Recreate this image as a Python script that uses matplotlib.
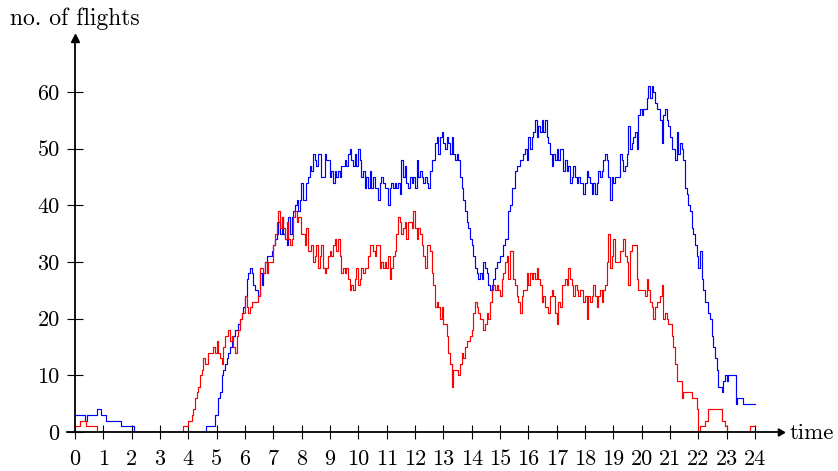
import matplotlib
matplotlib.use("Agg")
import matplotlib.pyplot as plt

plt.rcParams['font.family'] = ['cmr10', 'DejaVu Serif']
plt.rcParams['mathtext.fontset'] = 'cm'
plt.rcParams['axes.formatter.use_mathtext'] = True

# ---- data: breakpoints (hour, number of flights), drawn as post-steps ----
blue_t = [0, 0.35, 0.42, 0.77, 0.92, 1.09, 1.62, 2.10, 4.61, 4.94,
          5.058, 5.117, 5.176, 5.235, 5.294, 5.353, 5.411, 5.47, 5.529, 5.588,
          5.647, 5.706, 5.764, 5.823, 5.882, 5.941, 6.0, 6.058, 6.117, 6.176,
          6.235, 6.294, 6.353, 6.411, 6.47, 6.529, 6.588, 6.647, 6.706, 6.764,
          6.823, 6.882, 6.941, 7.0, 7.058, 7.117, 7.176, 7.235, 7.294, 7.353,
          7.411, 7.47, 7.529, 7.588, 7.647, 7.706, 7.764, 7.823,
          7.871, 7.93, 7.989, 8.047, 8.106, 8.165, 8.224, 8.283, 8.342, 8.4,
          8.459, 8.518, 8.577, 8.636, 8.695, 8.753, 8.812, 8.871, 8.93, 8.989,
          9.047, 9.106, 9.165, 9.224, 9.283, 9.342, 9.4, 9.459, 9.518, 9.577,
          9.636, 9.695, 9.753, 9.812, 9.871, 9.93, 9.989, 10.047, 10.106, 10.165,
          10.224, 10.283, 10.342, 10.4, 10.459, 10.518, 10.577, 10.636, 10.695, 10.753,
          10.812, 10.871, 10.93, 10.989, 11.047, 11.106, 11.165, 11.224, 11.283, 11.342,
          11.4, 11.459, 11.518, 11.577, 11.636, 11.695, 11.753, 11.812,
          11.883, 11.942, 12.0, 12.059, 12.118, 12.177, 12.236, 12.295, 12.353, 12.412,
          12.471, 12.53, 12.589, 12.648, 12.706, 12.765, 12.824, 12.883, 12.942, 13.0,
          13.059, 13.118, 13.177, 13.236, 13.295, 13.353, 13.412, 13.471, 13.53, 13.589,
          13.648, 13.706, 13.765, 13.824, 13.883, 13.942, 14.0, 14.059, 14.118, 14.177,
          14.236, 14.295, 14.353, 14.412, 14.471, 14.53, 14.589, 14.648, 14.706, 14.765,
          14.824, 14.883, 14.942, 15.0, 15.059, 15.118, 15.177, 15.236, 15.295, 15.353,
          15.412, 15.471, 15.53, 15.589, 15.648, 15.706, 15.765, 15.824,
          15.882, 15.941, 16.0, 16.059, 16.118, 16.176, 16.235, 16.294, 16.353, 16.412,
          16.471, 16.53, 16.588, 16.647, 16.706, 16.765, 16.824, 16.882, 16.941, 17.0,
          17.059, 17.118, 17.176, 17.235, 17.294, 17.353, 17.412, 17.471, 17.53, 17.588,
          17.647, 17.706, 17.765, 17.824, 17.882, 17.941, 18.0, 18.059, 18.118, 18.176,
          18.235, 18.294, 18.353, 18.412, 18.471, 18.53, 18.588, 18.647, 18.706, 18.765,
          18.824, 18.882, 18.941, 19.0, 19.059, 19.118, 19.176, 19.235, 19.294, 19.353,
          19.412, 19.471, 19.53, 19.588, 19.647, 19.706, 19.765, 19.824, 19.882, 19.941,
          20.0, 20.059, 20.118, 20.176, 20.235, 20.294, 20.353, 20.412, 20.471, 20.53,
          20.588, 20.647, 20.706, 20.765, 20.824, 20.882, 20.941, 21.0, 21.059, 21.118,
          21.176, 21.235, 21.294, 21.353, 21.412, 21.471, 21.53, 21.588, 21.647, 21.706,
          21.765, 21.824, 21.882, 21.941, 22.0, 22.059, 22.118, 22.176, 22.235, 22.294,
          22.353, 22.412, 22.471, 22.53, 22.588, 22.647, 22.706, 22.765, 22.824, 22.882,
          22.941, 23.0, 23.059, 23.33, 23.353, 23.588, 24.0]
blue_v = [3, 2, 3, 4, 3, 2, 1, 0, 1, 3,
          6, 7, 10, 11, 12, 13, 14, 15, 16, 17,
          18, 18, 19, 20, 21, 22, 24, 27, 28, 29,
          28, 26, 25, 25, 24, 28, 26, 28, 30, 31,
          31, 31, 32, 33, 34, 35, 37, 35, 38, 35,
          34, 33, 38, 35, 38, 39, 40, 41,
          39, 41, 44, 41, 41, 44, 45, 47, 46, 49,
          48, 47, 49, 49, 45, 45, 49, 48, 48, 45,
          46, 44, 46, 45, 46, 45, 47, 47, 48, 47,
          49, 50, 48, 47, 49, 47, 50, 48, 45, 46,
          43, 45, 43, 46, 43, 45, 43, 43, 41, 44,
          45, 44, 43, 43, 40, 43, 44, 43, 44, 43,
          44, 42, 48, 45, 47, 44, 43, 45,
          44, 45, 43, 48, 45, 46, 45, 44, 45, 44,
          43, 46, 48, 48, 51, 52, 49, 52, 53, 51,
          50, 52, 51, 49, 52, 49, 48, 49, 48, 45,
          43, 41, 39, 37, 36, 34, 33, 31, 29, 28,
          27, 28, 27, 30, 29, 28, 26, 25, 26, 27,
          29, 30, 30, 31, 31, 33, 34, 34, 39, 40,
          43, 43, 46, 47, 47, 48, 48, 49,
          50, 48, 52, 50, 52, 53, 55, 52, 54, 53,
          55, 53, 55, 52, 51, 49, 47, 49, 48, 50,
          48, 50, 50, 46, 48, 46, 47, 44, 45, 47,
          45, 44, 45, 44, 44, 42, 44, 46, 45, 44,
          42, 44, 42, 44, 46, 45, 46, 48, 49, 48,
          45, 41, 45, 44, 45, 45, 45, 49, 48, 46,
          47, 49, 54, 50, 51, 52, 53, 50, 56, 57,
          56, 57, 57, 59, 61, 59, 61, 60, 58, 57,
          57, 55, 51, 56, 57, 55, 54, 52, 50, 50,
          48, 53, 49, 51, 50, 48, 43, 42, 40, 39,
          36, 35, 33, 31, 29, 32, 27, 25, 23, 23,
          21, 20, 17, 15, 13, 11, 8, 8, 7, 9,
          10, 9, 10, 5, 6, 5, 5]

red_t = [0, 0.18, 0.39, 0.77, 3.82, 4.0,
         4.118, 4.176, 4.235, 4.294, 4.353, 4.412, 4.47, 4.529, 4.588, 4.647,
         4.706, 4.765, 4.824, 4.882, 4.941, 5.0, 5.058, 5.117, 5.176, 5.235,
         5.294, 5.353, 5.411, 5.47, 5.529, 5.588, 5.647, 5.706, 5.764, 5.823,
         5.882, 5.941, 6.0, 6.058, 6.117, 6.176, 6.235, 6.294, 6.353, 6.411,
         6.47, 6.529, 6.588, 6.647, 6.706, 6.764, 6.823, 6.882, 6.941, 7.0,
         7.058, 7.117, 7.176, 7.235, 7.294, 7.353, 7.411, 7.47, 7.529, 7.588,
         7.647, 7.706, 7.764, 7.823,
         7.871, 7.93, 7.989, 8.047, 8.106, 8.165, 8.224, 8.283, 8.342, 8.4,
         8.459, 8.518, 8.577, 8.636, 8.695, 8.753, 8.812, 8.871, 8.93, 8.989,
         9.047, 9.106, 9.165, 9.224, 9.283, 9.342, 9.4, 9.459, 9.518, 9.577,
         9.636, 9.695, 9.753, 9.812, 9.871, 9.93, 9.989, 10.047, 10.106, 10.165,
         10.224, 10.283, 10.342, 10.4, 10.459, 10.518, 10.577, 10.636, 10.695, 10.753,
         10.812, 10.871, 10.93, 10.989, 11.047, 11.106, 11.165, 11.224, 11.283, 11.342,
         11.4, 11.459, 11.518, 11.577, 11.636, 11.695, 11.753, 11.812,
         11.883, 11.942, 12.0, 12.059, 12.118, 12.177, 12.236, 12.295, 12.353, 12.412,
         12.471, 12.53, 12.589, 12.648, 12.706, 12.765, 12.824, 12.883, 12.942, 13.0,
         13.059, 13.118, 13.177, 13.236, 13.295, 13.353, 13.412, 13.471, 13.53, 13.589,
         13.648, 13.706, 13.765, 13.824, 13.883, 13.942, 14.0, 14.059, 14.118, 14.177,
         14.236, 14.295, 14.353, 14.412, 14.471, 14.53, 14.589, 14.648, 14.706, 14.765,
         14.824, 14.883, 14.942, 15.0, 15.059, 15.118, 15.177, 15.236, 15.295, 15.353,
         15.412, 15.471, 15.53, 15.589, 15.648, 15.706, 15.765, 15.824,
         15.882, 15.941, 16.0, 16.059, 16.118, 16.176, 16.235, 16.294, 16.353, 16.412,
         16.471, 16.53, 16.588, 16.647, 16.706, 16.765, 16.824, 16.882, 16.941, 17.0,
         17.059, 17.118, 17.176, 17.235, 17.294, 17.353, 17.412, 17.471, 17.53, 17.588,
         17.647, 17.706, 17.765, 17.824, 17.882, 17.941, 18.0, 18.059, 18.118, 18.176,
         18.235, 18.294, 18.353, 18.412, 18.471, 18.53, 18.588, 18.647, 18.706, 18.765,
         18.824, 18.882, 18.941, 19.0, 19.059, 19.118, 19.176, 19.235, 19.294, 19.353,
         19.412, 19.471, 19.53, 19.588, 19.647, 19.706, 19.765, 19.824, 19.882,
         20.0, 20.118, 20.176, 20.235, 20.294, 20.353, 20.412, 20.471, 20.53,
         20.588, 20.647, 20.706, 20.765, 20.824, 20.882, 20.941, 21.0, 21.059, 21.118,
         21.176, 21.235, 21.294, 21.353, 21.412, 21.471, 21.765, 21.965, 22.0, 22.06,
         22.235, 22.353, 22.824, 22.941, 23.0, 23.82, 24.0]
red_v = [1, 2, 1, 0, 1, 2,
         3, 4, 6, 7, 8, 10, 11, 13, 12, 12,
         14, 14, 14, 15, 14, 16, 14, 13, 12, 15,
         17, 17, 18, 16, 17, 15, 14, 17, 18, 20,
         21, 21, 24, 22, 21, 22, 23, 23, 23, 23,
         24, 29, 29, 28, 30, 28, 30, 30, 30, 33,
         35, 37, 39, 36, 38, 36, 34, 37, 34, 33,
         34, 38, 39, 37,
         38, 38, 35, 35, 33, 36, 32, 32, 33, 30,
         31, 33, 29, 31, 33, 29, 28, 29, 31, 32,
         31, 33, 34, 32, 34, 31, 28, 29, 28, 29,
         27, 25, 26, 25, 27, 29, 26, 27, 29, 28,
         29, 29, 31, 33, 33, 32, 31, 33, 33, 29,
         30, 29, 30, 29, 31, 27, 29, 31, 32, 35,
         38, 37, 35, 36, 37, 34, 37, 37,
         36, 39, 36, 34, 36, 35, 33, 31, 29, 33,
         33, 32, 28, 26, 22, 23, 22, 20, 22, 19,
         19, 17, 14, 12, 8, 11, 11, 11, 10, 12,
         14, 13, 15, 16, 16, 17, 18, 21, 23, 22,
         21, 20, 20, 18, 19, 21, 20, 23, 25, 26,
         25, 26, 25, 24, 27, 28, 30, 31, 27, 32,
         32, 27, 26, 24, 23, 21, 24, 25,
         25, 28, 26, 28, 27, 28, 27, 29, 27, 26,
         23, 24, 22, 22, 21, 24, 25, 24, 21, 19,
         23, 22, 26, 26, 27, 26, 29, 27, 26, 24,
         26, 25, 24, 25, 25, 23, 24, 20, 24, 23,
         24, 26, 24, 22, 24, 25, 23, 25, 26, 30,
         35, 29, 31, 34, 30, 30, 30, 32, 32, 34,
         31, 30, 26, 32, 33, 33, 33, 27, 25,
         25, 24, 27, 25, 23, 22, 20, 22, 23,
         23, 24, 26, 20, 21, 20, 19, 19, 17, 15,
         12, 9, 9, 9, 6, 7, 6, 4, 0, 1,
         2, 4, 2, 1, 0, 1, 1]

x_ticks = list(range(0, 25))
y_ticks = [0, 10, 20, 30, 40, 50, 60]
x_label = "time"
y_label = "no. of flights"

# ---- figure ----
W, H, DPI = 838, 471, 100
fig = plt.figure(figsize=(W / DPI, H / DPI), dpi=DPI)
ax = fig.add_axes([67 / W, 1 - 432 / H, (780 - 67) / W, (432 - 38) / H])

ax.step(blue_t, blue_v, where='post', color=(0, 0, 1), lw=0.85, zorder=2)
ax.step(red_t, red_v, where='post', color=(1, 0, 0), lw=0.85, zorder=2)

ax.set_xlim(-0.28, 24.88)
ax.set_ylim(0, 69.5)

for s in ['top', 'right']:
    ax.spines[s].set_visible(False)
for s in ['left', 'bottom']:
    ax.spines[s].set_linewidth(1.3)
    ax.spines[s].set_zorder(3)
ax.spines['left'].set_position(('data', 0))

ax.plot(1, 0, marker=(3, 0, -90), color='k', markersize=6,
        transform=ax.get_yaxis_transform(), clip_on=False, zorder=4)
ax.plot(0, 1, marker='^', color='k', markersize=6,
        transform=ax.get_xaxis_transform(), clip_on=False, zorder=4)

ax.set_xticks(x_ticks)
ax.set_yticks(y_ticks)
ax.set_xticklabels([str(v) for v in x_ticks])
ax.set_yticklabels([str(v) for v in y_ticks])
ax.tick_params(axis='both', direction='inout', width=0.8,
               labelsize=16, colors='k')
ax.tick_params(axis='x', length=9.5, pad=8.0)
ax.tick_params(axis='y', length=12, pad=5.0)

fig.text(790 / W, 1 - 439 / H, x_label, ha='left', va='baseline', fontsize=16.5)
fig.text(10 / W, 1 - 25 / H, y_label, ha='left', va='baseline', fontsize=17)

fig.savefig("out.png", dpi=DPI)
